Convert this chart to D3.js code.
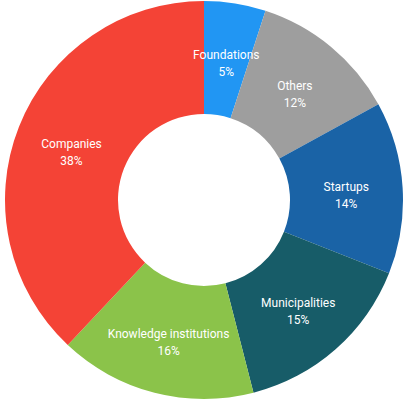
<!DOCTYPE html>
<html><head><meta charset="utf-8">
<script src="https://cdn.jsdelivr.net/npm/d3@7"></script>
<style>body{margin:0;background:#fff}svg{display:block}</style>
</head><body>
<script>
const categories = ["Foundations","Others","Startups","Municipalities","Knowledge institutions","Companies"];
const values = [5,12,14,15,16,38];
const colors = ["#2196F3","#9E9E9E","#1A63A6","#175C68","#8BC34A","#F44336"];

const W = 408, H = 407, cx = 204, cy = 200, R = 199, r0 = 86;
const svg = d3.select("body").append("svg").attr("width", W).attr("height", H);
const g = svg.append("g").attr("transform", `translate(${cx},${cy})`);
const data = categories.map((c,i)=>({name:c, value:values[i], color:colors[i]}));
const pie = d3.pie().value(d=>d.value).sort(null);
const arc = d3.arc().innerRadius(r0).outerRadius(R);
const arcs = pie(data);
g.selectAll("path").data(arcs).join("path").attr("d", arc).attr("fill", d=>d.data.color);
const lab = g.selectAll("text").data(arcs).join("text")
  .attr("transform", d=>`translate(${arc.centroid(d)})`)
  .attr("text-anchor","middle").attr("fill","#fff")
  .style("font-family","Roboto, sans-serif").style("font-size","12px");
lab.append("tspan").attr("x",0).attr("y",0).text(d=>d.data.name);
lab.append("tspan").attr("x",0).attr("y",17).text(d=>d.data.value+"%");
</script>
</body></html>
